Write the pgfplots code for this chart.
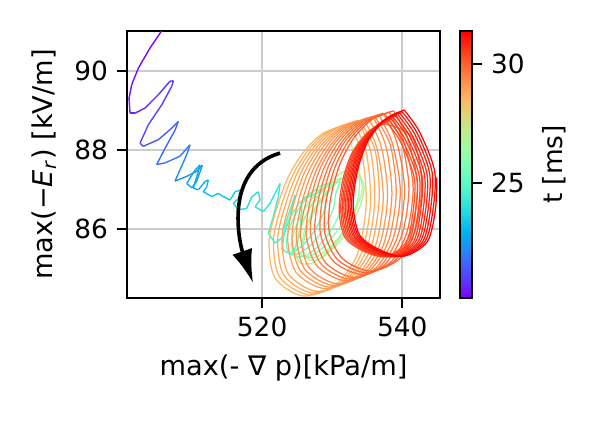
\documentclass[border=0pt]{standalone}
\usepackage{fontspec}
\setmainfont{DejaVu Sans}
\usepackage{pgfplots}
\pgfplotsset{compat=1.18}
\usetikzlibrary{arrows.meta}
\pgfplotsset{colormap={mplrainbow}{rgb=(0.5,0,1) rgb=(0.375,0.195,0.995) rgb=(0.25,0.383,0.981) rgb=(0.125,0.556,0.957) rgb=(0,0.707,0.924) rgb=(0.125,0.831,0.882) rgb=(0.25,0.924,0.831) rgb=(0.375,0.981,0.773) rgb=(0.5,1,0.707) rgb=(0.625,0.981,0.634) rgb=(0.75,0.924,0.556) rgb=(0.875,0.831,0.471) rgb=(1,0.707,0.383) rgb=(1,0.556,0.290) rgb=(1,0.383,0.195) rgb=(1,0.195,0.098) rgb=(1,0,0)}}
\pgfplotsset{loop/.style={smooth, line width=0.45pt, color of colormap={#1 of mplrainbow}}}
\begin{document}
\fontsize{9.5}{11.4}\selectfont
\begin{tikzpicture}
\useasboundingbox (0,0) rectangle (216pt,151.2pt);
\begin{axis}[
 at={(45.72pt,43.92pt)}, anchor=south west,
 width=112.68pt, height=96.12pt, scale only axis,
 xmin=500.7, xmax=545.4, ymin=84.25, ymax=91.01,
 xtick={520,540}, ytick={86,88,90},
 grid=major, grid style={line width=0.8pt, color=black!20},
 axis line style={line width=0.8pt},
 tick style={line width=0.8pt, black},
 tick align=outside, major tick length=3.5pt,
 xtick pos=left, ytick pos=left,
 /pgf/number format/assume math mode=true,
 label style={font=\fontsize{9.8}{11.8}\selectfont},
 xlabel={max(- ∇ p)[kPa/m]},
 ylabel={max(−\textit{E}\textsubscript{\textit{r}}) [kV/m]},
 colormap name=mplrainbow,
 point meta min=20.17, point meta max=31.39,
 colorbar,
 colorbar style={
   at={(parent axis.north east)}, anchor=north west, xshift=-1.3pt,
   width=4.32pt, height=96.12pt, scale only axis,
   ytick={25,30}, ylabel={t [ms]}, ytick pos=right,
   tick align=outside, major tick length=3.5pt,
   tick style={line width=0.8pt, black},
   axis line style={line width=0.8pt},
   /pgf/number format/assume math mode=true,
 },
]
\addplot[mesh, point meta=\thisrow{t}, line width=0.5pt] table {
x y t
505.90 91.08 20.17
503.99 90.58 20.25
502.32 90.07 20.33
501.37 89.65 20.40
500.99 89.31 20.48
501.13 88.93 20.56
501.84 88.93 20.64
503.27 89.06 20.72
505.18 89.40 20.80
506.85 89.74 20.87
507.32 89.75 20.95
507.09 89.61 21.03
505.66 89.14 21.11
503.75 88.64 21.19
502.56 88.17 21.26
503.03 88.09 21.34
505.18 88.26 21.42
507.09 88.55 21.50
508.03 88.72 21.58
507.56 88.50 21.65
506.13 88.04 21.73
504.94 87.63 21.81
506.13 87.67 21.89
508.27 87.84 21.97
509.70 88.13 22.04
509.23 87.88 22.12
507.56 87.21 22.20
509.23 87.33 22.28
510.66 87.46 22.36
511.46 87.61 22.43
510.66 87.21 22.51
509.99 87.04 22.59
509.23 87.15 22.65
510.42 87.49 22.71
511.13 87.62 22.77
510.66 87.32 22.83
510.17 87.03 22.89
510.89 86.99 22.95
511.85 87.20 23.01
512.32 87.24 23.07
512.09 87.07 23.13
511.60 86.94 23.19
512.80 86.82 23.25
513.75 86.90 23.31
514.46 86.82 23.37
515.42 86.73 23.43
516.13 86.94 23.49
516.85 86.98 23.55
516.60 86.77 23.61
515.89 86.65 23.67
516.60 86.48 23.73
517.80 86.52 23.79
518.52 86.81 23.85
519.46 86.94 23.91
519.70 86.73 23.97
518.99 86.56 24.03
520.17 86.44 24.09
521.13 86.65 24.15
521.85 86.90 24.21
522.56 87.15 24.27
522.32 86.82 24.33
521.60 86.31 24.39
520.89 85.89 24.45
521.85 85.64 24.51
523.03 85.80 24.57
524.00 86.31 24.63
524.70 86.86 24.69
523.27 86.10 24.75
522.85 85.47 24.81
524.27 85.34 24.87
525.40 85.84 24.92
525.70 86.73 24.97
528.65 86.98 25.05
};
% green loops
\addplot[loop=444] coordinates {(528.65,86.98) (527.44,86.97) (525.84,86.75) (524.28,86.38) (523.19,85.97) (522.85,85.62) (523.35,85.42) (524.56,85.43) (526.16,85.65) (527.72,86.02) (528.81,86.43) (529.15,86.78) (529.98,87.13)};
\addplot[loop=471] coordinates {(529.98,87.13) (528.62,87.11) (526.82,86.87) (525.07,86.46) (523.84,85.99) (523.46,85.59) (524.02,85.37) (525.38,85.39) (527.18,85.63) (528.93,86.04) (530.16,86.51) (530.54,86.91) (531.18,87.19)};
\addplot[loop=497] coordinates {(531.18,87.19) (529.72,87.17) (527.81,86.91) (525.94,86.47) (524.63,85.97) (524.22,85.55) (524.82,85.31) (526.28,85.33) (528.19,85.59) (530.06,86.03) (531.37,86.53) (531.78,86.95) (532.32,87.28)};
\addplot[loop=524] coordinates {(532.32,87.28) (530.80,87.26) (528.80,86.99) (526.85,86.53) (525.48,86.01) (525.06,85.57) (525.68,85.32) (527.20,85.34) (529.20,85.61) (531.15,86.07) (532.52,86.59) (532.94,87.03) (533.25,87.31)};
\addplot[loop=551] coordinates {(533.25,87.31) (531.67,87.30) (529.59,87.01) (527.57,86.54) (526.14,86.00) (525.71,85.54) (526.35,85.29) (527.93,85.30) (530.01,85.59) (532.03,86.06) (533.46,86.60) (533.89,87.06) (533.85,87.37)};
\addplot[loop=578] coordinates {(533.85,87.37) (532.17,87.36) (529.98,87.05) (527.84,86.55) (526.33,85.98) (525.87,85.50) (526.55,85.23) (528.23,85.24) (530.42,85.55) (532.56,86.05) (534.07,86.62) (534.53,87.10) (533.48,87.47)};
\addplot[loop=620] coordinates {(533.48,87.47) (531.65,87.45) (529.26,87.12) (526.93,86.58) (525.28,85.95) (524.78,85.42) (525.52,85.13) (527.35,85.15) (529.74,85.48) (532.07,86.02) (533.72,86.65) (534.22,87.18) (531.85,88.63)};
% orange family, drifting right
\addplot[loop=740] coordinates {(531.85,88.63) (528.70,88.42) (526.13,87.99) (523.85,87.36) (522.13,86.55) (520.99,85.67) (521.85,84.75) (525.85,84.30) (530.42,84.58) (533.56,85.34) (534.85,86.60) (534.28,87.87) (532.47,88.67)};
\addplot[loop=751] coordinates {(532.47,88.67) (529.32,88.46) (526.75,88.03) (524.47,87.40) (522.75,86.59) (521.61,85.71) (522.47,84.79) (526.47,84.34) (531.04,84.62) (534.18,85.38) (535.47,86.64) (534.90,87.91) (533.08,88.71)};
\addplot[loop=762] coordinates {(533.08,88.71) (529.93,88.50) (527.36,88.07) (525.08,87.44) (523.36,86.63) (522.22,85.75) (523.08,84.83) (527.08,84.38) (531.65,84.66) (534.79,85.42) (536.08,86.68) (535.51,87.95) (533.70,88.75)};
\addplot[loop=772] coordinates {(533.70,88.75) (530.55,88.54) (527.98,88.11) (525.70,87.48) (523.98,86.67) (522.84,85.79) (523.70,84.87) (527.70,84.42) (532.27,84.70) (535.41,85.46) (536.70,86.72) (536.13,87.99) (533.95,88.73)};
\addplot[loop=783] coordinates {(533.95,88.73) (530.84,88.52) (528.23,88.07) (526.03,87.42) (524.46,86.60) (523.64,85.74) (524.85,84.90) (528.85,84.49) (533.29,84.79) (536.15,85.55) (537.29,86.78) (536.44,88.01) (534.57,88.77)};
\addplot[loop=794] coordinates {(534.57,88.77) (531.46,88.56) (528.85,88.11) (526.65,87.46) (525.08,86.64) (524.26,85.78) (525.47,84.94) (529.47,84.53) (533.91,84.83) (536.77,85.59) (537.91,86.82) (537.06,88.05) (535.19,88.81)};
\addplot[loop=805] coordinates {(535.19,88.81) (532.08,88.60) (529.47,88.15) (527.27,87.50) (525.70,86.68) (524.88,85.82) (526.09,84.98) (530.09,84.57) (534.53,84.87) (537.39,85.63) (538.53,86.86) (537.68,88.09) (535.80,88.85)};
\addplot[loop=816] coordinates {(535.80,88.85) (532.69,88.64) (530.08,88.19) (527.88,87.54) (526.31,86.72) (525.49,85.86) (526.70,85.02) (530.70,84.61) (535.14,84.91) (538.00,85.67) (539.14,86.90) (538.29,88.13) (536.05,88.85)};
\addplot[loop=826] coordinates {(536.05,88.85) (532.99,88.63) (530.33,88.16) (528.22,87.50) (526.80,86.66) (526.31,85.82) (527.85,85.06) (531.85,84.69) (536.16,85.00) (538.75,85.78) (539.73,86.96) (538.61,88.16) (536.66,88.89)};
\addplot[loop=837] coordinates {(536.66,88.89) (533.60,88.67) (530.94,88.20) (528.83,87.54) (527.41,86.70) (526.92,85.86) (528.46,85.10) (532.46,84.73) (536.77,85.04) (539.36,85.82) (540.34,87.00) (539.22,88.20) (537.28,88.93)};
\addplot[loop=848] coordinates {(537.28,88.93) (534.22,88.71) (531.56,88.24) (529.45,87.58) (528.03,86.74) (527.54,85.90) (529.08,85.14) (533.08,84.77) (537.39,85.08) (539.98,85.86) (540.96,87.04) (539.84,88.24) (537.54,88.91)};
\addplot[loop=859] coordinates {(537.54,88.91) (534.52,88.70) (531.82,88.21) (529.79,87.52) (528.53,86.67) (528.35,85.85) (530.24,85.17) (534.24,84.85) (538.42,85.17) (540.73,85.95) (541.56,87.10) (540.16,88.25) (538.15,88.95)};
\addplot[loop=870] coordinates {(538.15,88.95) (535.13,88.74) (532.43,88.25) (530.40,87.56) (529.14,86.71) (528.96,85.89) (530.85,85.21) (534.85,84.89) (539.03,85.21) (541.34,85.99) (542.17,87.14) (540.77,88.29) (538.77,88.99)};
\addplot[loop=880] coordinates {(538.77,88.99) (535.75,88.78) (533.05,88.29) (531.02,87.60) (529.76,86.75) (529.58,85.93) (531.47,85.25) (535.47,84.93) (539.65,85.25) (541.96,86.03) (542.79,87.18) (541.39,88.33) (537.51,88.66)};
% red loops, growing
\addplot[loop=892] coordinates {(537.51,88.66) (535.23,88.47) (532.94,87.96) (531.57,87.28) (531.00,86.48) (531.80,85.79) (534.31,85.45) (537.51,85.30) (540.48,85.64) (541.51,86.37) (541.74,87.28) (539.80,88.19) (537.82,88.70)};
\addplot[loop=904] coordinates {(537.82,88.70) (535.50,88.50) (533.18,87.99) (531.79,87.30) (531.22,86.49) (532.03,85.80) (534.58,85.45) (537.82,85.30) (540.83,85.64) (541.87,86.38) (542.10,87.30) (540.14,88.22) (538.12,88.74)};
\addplot[loop=916] coordinates {(538.12,88.74) (535.78,88.54) (533.43,88.02) (532.02,87.32) (531.44,86.50) (532.26,85.81) (534.84,85.46) (538.12,85.30) (541.17,85.65) (542.23,86.39) (542.46,87.32) (540.47,88.25) (538.44,88.78)};
\addplot[loop=928] coordinates {(538.44,88.78) (536.06,88.57) (533.68,88.05) (532.26,87.35) (531.67,86.52) (532.50,85.81) (535.11,85.46) (538.44,85.30) (541.53,85.65) (542.60,86.41) (542.83,87.35) (540.82,88.29) (538.74,88.82)};
\addplot[loop=940] coordinates {(538.74,88.82) (536.34,88.61) (533.93,88.08) (532.49,87.37) (531.89,86.53) (532.73,85.82) (535.38,85.46) (538.74,85.30) (541.87,85.66) (542.95,86.42) (543.19,87.37) (541.15,88.32) (539.05,88.86)};
\addplot[loop=952] coordinates {(539.05,88.86) (536.61,88.65) (534.17,88.12) (532.72,87.39) (532.11,86.55) (532.97,85.83) (535.64,85.46) (539.05,85.30) (542.21,85.66) (543.31,86.43) (543.55,87.39) (541.49,88.35) (539.35,88.90)};
\addplot[loop=964] coordinates {(539.35,88.90) (536.89,88.68) (534.42,88.15) (532.94,87.42) (532.33,86.56) (533.19,85.83) (535.90,85.47) (539.35,85.30) (542.56,85.67) (543.67,86.45) (543.91,87.42) (541.82,88.39) (539.66,88.93)};
\addplot[loop=976] coordinates {(539.66,88.93) (537.16,88.72) (534.66,88.18) (533.17,87.44) (532.55,86.58) (533.43,85.84) (536.17,85.47) (539.66,85.31) (542.90,85.67) (544.02,86.46) (544.27,87.44) (542.16,88.42) (539.97,88.97)};
\addplot[loop=988] coordinates {(539.97,88.97) (537.45,88.76) (534.92,88.21) (533.41,87.46) (532.78,86.59) (533.66,85.85) (536.44,85.47) (539.97,85.31) (543.25,85.68) (544.39,86.47) (544.64,87.46) (542.50,88.45) (540.28,89.01)};
\addplot[loop=1000] coordinates {(540.28,89.01) (537.72,88.79) (535.16,88.24) (533.64,87.49) (533.00,86.61) (533.90,85.85) (536.70,85.48) (540.28,85.31) (543.60,85.68) (544.75,86.49) (544.95,87.30)};
\draw[line width=1.3pt, -{Latex[length=12pt,width=7.5pt]}] (axis cs:522.56,87.92) .. controls (axis cs:514.27,87.49) and (axis cs:516.85,85.59) .. (axis cs:518.70,84.63);
\end{axis}
\end{tikzpicture}
\end{document}
